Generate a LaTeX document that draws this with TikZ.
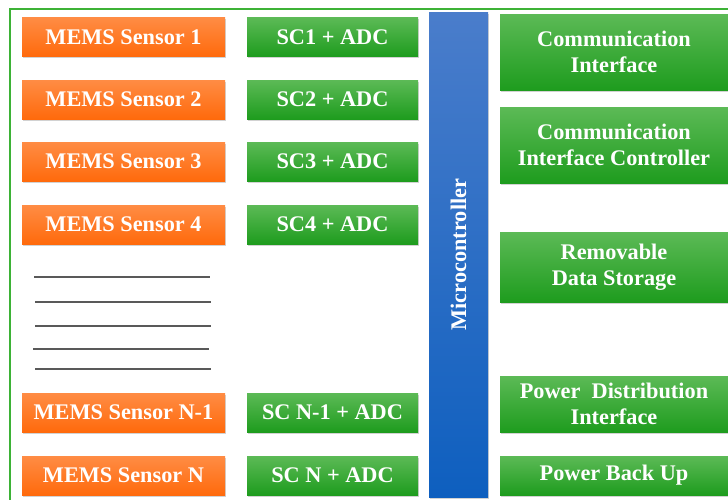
\documentclass[tikz,border=0pt]{standalone}
\usepackage{fontspec}
\setmainfont{Liberation Serif}
\usepackage{tikz}
\usetikzlibrary{shadows}

\definecolor{orangetop}{HTML}{FF8C44}
\definecolor{orangebot}{HTML}{FF6A0C}
\definecolor{greentop}{HTML}{5CBA56}
\definecolor{greenbot}{HTML}{1E9C1E}
\definecolor{bluetop}{HTML}{4A7DCB}
\definecolor{bluebot}{HTML}{0E5FBF}
\definecolor{framegreen}{HTML}{3DB236}

\begin{document}
\begin{tikzpicture}[
		x=1pt, y=-1pt,
		block/.style={inner sep=0pt, align=center, text=white,
			font=\fontsize{22.3}{26}\selectfont\bfseries,
			drop shadow={shadow xshift=1pt, shadow yshift=-1.8pt, fill=black!35}},
		sensor/.style={block, top color=orangetop, bottom color=orangebot,
			minimum width=203pt, minimum height=39pt},
		conv/.style={block, top color=greentop, bottom color=greenbot,
			minimum width=171pt, minimum height=39pt},
		periph/.style={block, top color=greentop, bottom color=greenbot,
			minimum width=228pt},
		mcu/.style={block, top color=bluetop, bottom color=bluebot,
			minimum width=59pt, minimum height=485pt},
		gap/.style={draw=black!65, line width=1.3pt}
		]
		\useasboundingbox (0,0) rectangle (728,499);
		\begin{scope}
			\clip (0,0) rectangle (728,499);
			\draw[framegreen, line width=2pt] (10,9) rectangle (745,515);
		\end{scope}
		
		% Les capteurs
		\node[sensor] (S1) at (123.5,37) {MEMS Sensor 1};
		\node[sensor] (S2) at (123.5,99.5) {MEMS Sensor 2};
		\node[sensor] (S3) at (123.5,161.5) {MEMS Sensor 3};
		\node[sensor] (S4) at (123.5,224.5) {MEMS Sensor 4};
		\node[sensor] (SNm) at (123.5,412.5) {MEMS Sensor N-1};
		\node[sensor] (SN) at (123.5,475.5) {MEMS Sensor N};
		
		% Conditionnement + conversion
		\node[conv] (C1) at (332.5,37) {SC1 + ADC};
		\node[conv] (C2) at (332.5,99.5) {SC2 + ADC};
		\node[conv] (C3) at (332.5,161.5) {SC3 + ADC};
		\node[conv] (C4) at (332.5,224.5) {SC4 + ADC};
		\node[conv] (CNm) at (332.5,412.5) {SC N-1 + ADC};
		\node[conv] (CN) at (332.5,475.5) {SC N + ADC};
		
		% Le microcontroleur
		\node[mcu] (M) at (458.5,254.5) {};
		\node[text=white, font=\fontsize{22.3}{26}\selectfont\bfseries, rotate=90] (Mlabel) at (M.center) {Microcontroller};
		
		% Les peripheriques
		\node[periph, minimum height=76pt] (CI) at (614,52) {Communication\\Interface};
		\node[periph, minimum height=76pt] (CIC) at (614,145) {Communication\\Interface Controller};
		\node[periph, minimum height=70pt] (RDS) at (614,267) {Removable\\Data Storage};
		\node[periph, minimum height=56pt] (PDI) at (614,404) {Power~~Distribution\\Interface};
		\node[periph, minimum height=39pt] (PBU) at (614,475.5) {Power Back Up};
		
		% Capteurs intermediaires
		\coordinate (L1a) at (34,277); \coordinate (L1b) at (210,277);
		\coordinate (L2a) at (35,302); \coordinate (L2b) at (211,302);
		\coordinate (L3a) at (35,326); \coordinate (L3b) at (211,326);
		\coordinate (L4a) at (33,349); \coordinate (L4b) at (209,349);
		\coordinate (L5a) at (35,369); \coordinate (L5b) at (211,369);
		\draw[gap] (L1a) -- (L1b);
		\draw[gap] (L2a) -- (L2b);
		\draw[gap] (L3a) -- (L3b);
		\draw[gap] (L4a) -- (L4b);
		\draw[gap] (L5a) -- (L5b);
	\end{tikzpicture}
\end{document}
